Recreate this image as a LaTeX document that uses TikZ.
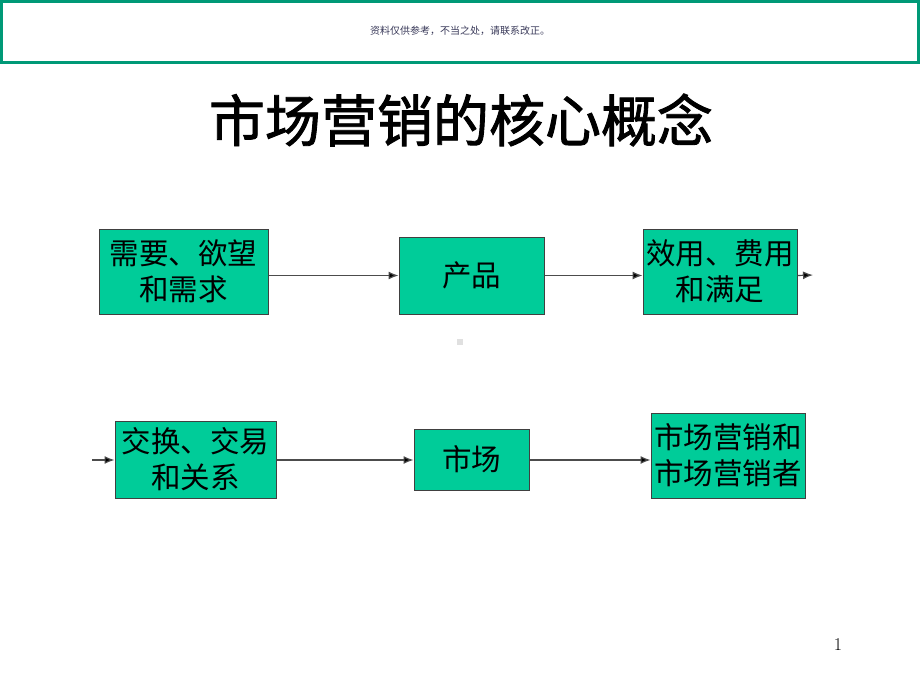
\documentclass[tikz,border=0pt]{standalone}
\usepackage{fontspec}
\usepackage{tikz}
\usetikzlibrary{arrows.meta}
\newfontfamily\cjk{Noto Sans CJK SC}
\newfontfamily\cjktitle[FakeBold=1.6]{Noto Sans CJK SC}
\definecolor{boxgreen}{HTML}{00CC99}
\definecolor{framegreen}{HTML}{009977}
\definecolor{notegray}{HTML}{3A3A5A}

\begin{document}
\begin{tikzpicture}[x=1pt,y=-1pt,
        conceptbox/.style={draw=black!75, line width=1pt, fill=boxgreen, inner sep=0pt,
            align=center, font=\cjk\fontsize{29.5}{36}\selectfont},
        flow/.style={draw=black!70, line width=1.2pt, -{Latex[length=10pt,width=8pt,fill=black]}}]
        \useasboundingbox (0,0) rectangle (920,690);
        \fill[white] (0,0) rectangle (920,690);
        \draw[framegreen, line width=2.5pt] (1.5,1.5) rectangle (918.5,62.5);
        \node[text=notegray, font=\cjk\fontsize{10}{12}\selectfont] (note) at (460,31) {资料仅供参考，不当之处，请联系改正。};
        \node[font=\cjktitle\fontsize{56}{64}\selectfont] (title) at (461,120) {市场营销的核心概念};

        \node[conceptbox, minimum width=169pt, minimum height=85pt] (needs) at (183.5,271.5) {需要、欲望\\和需求};
        \node[conceptbox, minimum width=145pt, minimum height=77pt] (product) at (471.5,275.5) {产品};
        \node[conceptbox, minimum width=154pt, minimum height=85pt] (value) at (720,271.5) {效用、费用\\和满足};
        \node[conceptbox, minimum width=161pt, minimum height=77pt] (exchange) at (195.5,459.5) {交换、交易\\和关系};
        \node[conceptbox, minimum width=115pt, minimum height=61pt] (market) at (471.5,459.5) {市场};
        \node[conceptbox, minimum width=154pt, minimum height=85pt] (marketers) at (728,455.5) {市场营销和\\市场营销者};
        \coordinate (out) at (813,275);
        \coordinate (in) at (92,460);

        \draw[flow] (needs.east |- product) -- (product.west);
        \draw[flow] (product.east) -- (product.east -| value.west);
        \draw[flow] (value.east |- product) -- (out);
        \draw[flow] (in) -- (exchange.west |- in);
        \draw[flow] (exchange.east |- in) -- (market.west |- in);
        \draw[flow] (market.east |- in) -- (marketers.west |- in);

        \fill[black!12] (457,339) rectangle (463,345);
        \node[font=\fontsize{18}{20}\selectfont] (page) at (838,645) {1};
    \end{tikzpicture}
\end{document}
